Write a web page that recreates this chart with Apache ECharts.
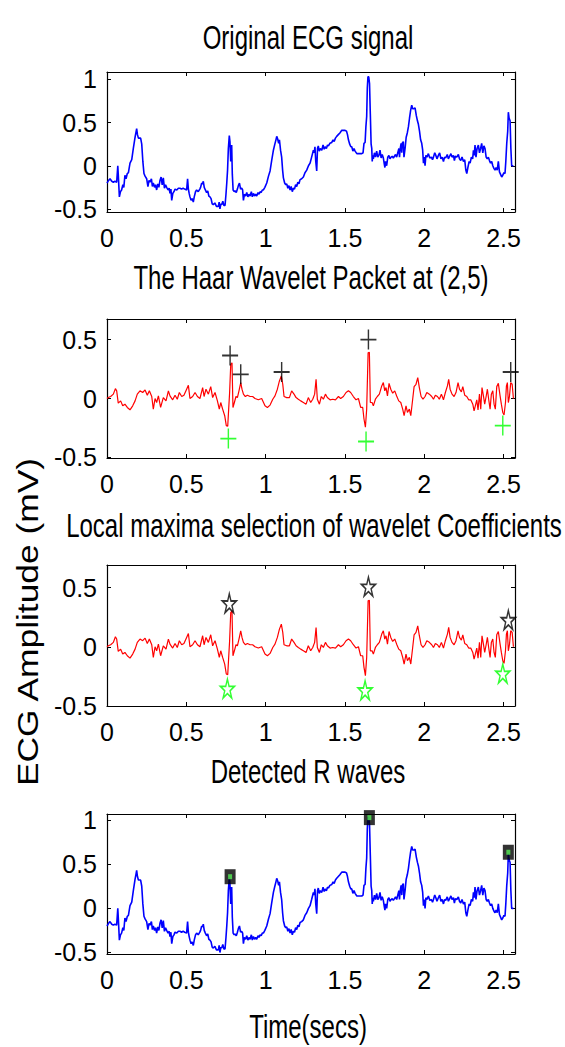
<!DOCTYPE html>
<html><head><meta charset="utf-8">
<script src="https://cdn.jsdelivr.net/npm/echarts@6/dist/echarts.min.js"></script>
<style>html,body{margin:0;padding:0;background:#fff}#c{width:565px;height:1047px}</style>
</head><body><div id="c"></div>
<script>
const panelTitles = ['Original ECG signal','The Haar Wavelet Packet at (2,5)','Local maxima selection of wavelet Coefficients','Detected R waves'];
const xAxisTitle = 'Time(secs)';
const yAxisTitle = 'ECG Amplitude (mV)';
const xTickValues = [0,0.5,1,1.5,2,2.5];
const yTicksEcg = [-0.5,0,0.5,1];
const yTicksCoef = [-0.5,0,0.5];

// Original ECG signal [time (s), amplitude (mV)]
const ecgSignal = [
[0.000,-0.20],[0.010,-0.17],[0.019,-0.15],[0.030,-0.18],[0.040,-0.19],[0.050,-0.18],[0.061,-0.19],[0.068,0.00],[0.071,-0.10],[0.078,-0.36],
[0.085,-0.30],[0.092,-0.28],[0.100,-0.22],[0.106,-0.25],[0.113,-0.11],[0.120,-0.15],[0.128,-0.09],[0.135,-0.08],[0.145,0.03],[0.156,0.07],
[0.166,0.20],[0.177,0.33],[0.182,0.38],[0.187,0.43],[0.192,0.36],[0.198,0.32],[0.204,0.32],[0.212,0.32],[0.219,0.25],[0.226,0.05],
[0.233,-0.09],[0.240,-0.12],[0.250,-0.15],[0.258,-0.24],[0.265,-0.17],[0.271,-0.19],[0.280,-0.15],[0.286,-0.24],[0.292,-0.20],[0.300,-0.25],
[0.306,-0.22],[0.313,-0.28],[0.320,-0.21],[0.327,-0.25],[0.334,-0.17],[0.341,-0.13],[0.348,-0.22],[0.355,-0.14],[0.362,-0.26],[0.369,-0.22],
[0.376,-0.25],[0.385,-0.28],[0.392,-0.26],[0.397,-0.32],[0.403,-0.27],[0.408,-0.40],[0.415,-0.32],[0.422,-0.30],[0.429,-0.27],[0.440,-0.28],
[0.450,-0.26],[0.460,-0.26],[0.470,-0.27],[0.480,-0.26],[0.490,-0.27],[0.502,-0.28],[0.508,-0.15],[0.513,-0.27],[0.518,-0.32],[0.523,-0.36],
[0.530,-0.40],[0.537,-0.38],[0.544,-0.42],[0.550,-0.36],[0.558,-0.30],[0.565,-0.28],[0.575,-0.30],[0.585,-0.27],[0.590,-0.25],[0.597,-0.20],
[0.602,-0.21],[0.607,-0.18],[0.613,-0.25],[0.620,-0.28],[0.628,-0.31],[0.635,-0.29],[0.642,-0.35],[0.649,-0.36],[0.656,-0.38],[0.663,-0.44],
[0.670,-0.45],[0.680,-0.43],[0.690,-0.47],[0.702,-0.47],[0.707,-0.42],[0.712,-0.50],[0.718,-0.44],[0.723,-0.45],[0.730,-0.41],[0.737,-0.46],
[0.744,-0.46],[0.750,-0.33],[0.755,-0.20],[0.760,-0.05],[0.765,0.20],[0.771,0.35],[0.775,0.28],[0.780,0.05],[0.786,0.24],[0.790,-0.10],
[0.795,-0.28],[0.802,-0.30],[0.807,-0.29],[0.815,-0.31],[0.822,-0.27],[0.828,-0.23],[0.835,-0.20],[0.842,-0.27],[0.849,-0.26],[0.855,-0.28],
[0.860,-0.40],[0.866,-0.33],[0.874,-0.35],[0.881,-0.31],[0.888,-0.36],[0.895,-0.33],[0.902,-0.35],[0.910,-0.30],[0.916,-0.36],[0.923,-0.32],
[0.930,-0.35],[0.937,-0.33],[0.944,-0.35],[0.952,-0.31],[0.958,-0.33],[0.965,-0.30],[0.972,-0.31],[0.979,-0.28],[0.986,-0.28],[0.995,-0.25],
[1.007,-0.20],[1.018,-0.12],[1.028,-0.06],[1.038,0.06],[1.049,0.18],[1.058,0.25],[1.065,0.30],[1.070,0.34],[1.076,0.31],[1.082,0.26],
[1.087,0.30],[1.094,0.18],[1.101,0.10],[1.107,-0.05],[1.112,-0.14],[1.120,-0.20],[1.127,-0.22],[1.133,-0.21],[1.140,-0.26],[1.147,-0.23],
[1.154,-0.28],[1.161,-0.24],[1.168,-0.30],[1.175,-0.26],[1.182,-0.27],[1.189,-0.22],[1.196,-0.24],[1.203,-0.19],[1.210,-0.21],[1.217,-0.16],
[1.227,-0.15],[1.238,-0.13],[1.248,-0.08],[1.259,-0.05],[1.270,0.00],[1.280,0.03],[1.290,0.10],[1.301,0.18],[1.306,0.15],[1.311,0.22],
[1.316,0.05],[1.322,-0.06],[1.327,0.20],[1.332,0.23],[1.338,0.17],[1.345,0.20],[1.354,0.18],[1.362,0.24],[1.369,0.19],[1.375,0.22],
[1.383,0.20],[1.390,0.24],[1.396,0.23],[1.405,0.26],[1.417,0.27],[1.425,0.30],[1.432,0.28],[1.440,0.32],[1.448,0.34],[1.458,0.36],
[1.468,0.38],[1.480,0.41],[1.490,0.41],[1.501,0.41],[1.510,0.40],[1.516,0.36],[1.522,0.30],[1.530,0.25],[1.537,0.22],[1.543,0.22],
[1.550,0.17],[1.557,0.20],[1.564,0.17],[1.575,0.14],[1.585,0.14],[1.596,0.14],[1.606,0.14],[1.614,0.15],[1.620,0.26],[1.627,0.27],
[1.632,0.45],[1.637,0.57],[1.641,0.90],[1.645,1.03],[1.650,1.03],[1.655,0.95],[1.660,0.60],[1.665,0.25],[1.669,0.20],[1.672,0.05],
[1.675,0.12],[1.679,0.08],[1.686,0.15],[1.693,0.10],[1.700,0.17],[1.707,0.10],[1.714,0.12],[1.721,0.18],[1.728,0.09],[1.735,0.13],
[1.742,0.09],[1.748,0.02],[1.752,-0.02],[1.756,0.05],[1.763,0.00],[1.770,0.10],[1.777,0.12],[1.784,0.08],[1.791,0.10],[1.798,0.11],
[1.805,0.09],[1.812,0.11],[1.819,0.13],[1.826,0.10],[1.833,0.15],[1.840,0.20],[1.844,0.10],[1.847,0.18],[1.854,0.26],[1.858,0.15],
[1.861,0.26],[1.868,0.28],[1.872,0.10],[1.879,0.20],[1.886,0.33],[1.893,0.38],[1.900,0.45],[1.907,0.55],[1.914,0.64],[1.921,0.70],
[1.927,0.66],[1.935,0.66],[1.942,0.67],[1.950,0.58],[1.957,0.52],[1.963,0.48],[1.970,0.40],[1.977,0.30],[1.984,0.26],[1.990,0.18],
[1.995,0.03],[2.000,0.10],[2.005,0.00],[2.010,0.12],[2.017,0.10],[2.026,0.14],[2.035,0.09],[2.045,0.10],[2.052,0.07],[2.058,0.10],
[2.066,0.15],[2.073,0.12],[2.080,0.08],[2.089,0.12],[2.097,0.15],[2.105,0.08],[2.113,0.10],[2.121,0.05],[2.128,0.10],[2.135,0.09],
[2.145,0.13],[2.152,0.08],[2.160,0.11],[2.168,0.14],[2.175,0.10],[2.184,0.12],[2.190,0.06],[2.196,0.11],[2.205,0.10],[2.215,0.13],
[2.222,0.08],[2.230,0.06],[2.238,0.10],[2.247,0.05],[2.255,0.07],[2.262,-0.05],[2.268,-0.09],[2.275,-0.02],[2.283,0.05],[2.289,0.03],
[2.297,0.10],[2.305,0.08],[2.310,0.18],[2.315,0.12],[2.320,0.24],[2.326,0.10],[2.333,0.20],[2.341,0.24],[2.348,0.15],[2.355,0.20],
[2.362,0.26],[2.369,0.15],[2.376,0.23],[2.383,0.20],[2.390,0.10],[2.397,0.08],[2.404,0.10],[2.411,0.06],[2.418,0.03],[2.425,0.05],
[2.432,0.00],[2.439,-0.03],[2.446,-0.05],[2.453,-0.02],[2.460,-0.05],[2.467,0.05],[2.474,-0.07],[2.481,-0.10],[2.488,-0.13],[2.495,-0.11],
[2.502,-0.08],[2.509,-0.09],[2.514,0.05],[2.520,0.26],[2.526,0.40],[2.530,0.62],[2.535,0.55],[2.541,0.52],[2.546,0.20],[2.551,0.00],[2.562,0.00]
];

// Haar wavelet packet coefficients at (2,5) [time (s), value]
const waveletCoef = [
[0.000,0.000],[0.008,0.008],[0.023,0.017],[0.040,0.037],[0.053,0.084],[0.061,0.065],[0.071,-0.039],[0.086,-0.020],[0.099,-0.062],[0.113,-0.048],
[0.128,-0.076],[0.145,-0.096],[0.162,-0.062],[0.177,-0.020],[0.191,0.037],[0.208,0.065],[0.225,0.051],[0.240,0.073],[0.254,0.028],[0.267,0.065],
[0.282,0.017],[0.292,-0.090],[0.303,0.000],[0.313,-0.034],[0.324,0.022],[0.338,-0.076],[0.355,0.008],[0.372,-0.020],[0.387,0.065],[0.397,0.022],
[0.414,-0.011],[0.429,0.028],[0.443,-0.006],[0.456,0.051],[0.471,0.017],[0.485,0.028],[0.502,0.079],[0.513,0.112],[0.523,0.000],[0.540,0.017],
[0.555,0.051],[0.570,0.017],[0.586,0.000],[0.603,0.093],[0.612,0.017],[0.624,0.079],[0.639,0.037],[0.654,0.101],[0.666,0.008],[0.681,0.051],
[0.696,-0.020],[0.708,-0.090],[0.717,-0.034],[0.729,-0.090],[0.742,-0.146],[0.752,-0.230],[0.761,-0.236],[0.767,-0.090],[0.773,0.051],[0.780,0.289],
[0.788,0.303],[0.794,-0.076],[0.803,-0.034],[0.813,0.017],[0.822,0.008],[0.832,0.065],[0.843,0.135],[0.851,0.079],[0.860,0.037],[0.872,0.017],
[0.885,0.028],[0.902,0.017],[0.918,0.017],[0.933,0.000],[0.954,-0.011],[0.975,0.000],[0.996,-0.062],[1.011,-0.076],[1.028,-0.056],[1.045,-0.006],
[1.059,0.022],[1.074,0.079],[1.087,0.149],[1.099,0.191],[1.108,0.121],[1.116,0.017],[1.133,0.008],[1.150,0.008],[1.164,0.065],[1.179,0.037],
[1.192,0.008],[1.206,-0.006],[1.221,-0.020],[1.238,-0.034],[1.255,-0.048],[1.269,0.008],[1.284,-0.034],[1.297,-0.006],[1.309,0.037],[1.318,0.163],
[1.326,-0.006],[1.339,-0.048],[1.351,0.017],[1.364,-0.006],[1.377,0.037],[1.389,0.008],[1.406,-0.011],[1.423,-0.006],[1.440,-0.011],[1.459,0.017],
[1.473,0.000],[1.490,0.017],[1.507,0.051],[1.522,0.065],[1.536,0.051],[1.553,0.017],[1.570,-0.011],[1.585,0.000],[1.599,-0.076],[1.612,-0.076],
[1.620,-0.174],[1.629,-0.244],[1.637,-0.090],[1.646,0.388],[1.654,0.393],[1.660,-0.034],[1.671,-0.034],[1.679,-0.062],[1.692,-0.006],[1.704,0.017],
[1.717,0.037],[1.732,0.107],[1.742,0.135],[1.751,0.065],[1.759,0.093],[1.768,0.022],[1.778,0.129],[1.789,0.079],[1.801,0.045],[1.814,0.065],
[1.826,0.022],[1.839,-0.020],[1.852,-0.034],[1.864,-0.090],[1.873,-0.146],[1.885,-0.062],[1.894,-0.118],[1.906,-0.090],[1.915,-0.146],[1.927,-0.006],
[1.936,0.101],[1.948,0.121],[1.959,0.177],[1.969,0.093],[1.980,0.017],[1.992,-0.006],[2.005,0.017],[2.016,0.051],[2.032,0.037],[2.047,0.017],
[2.058,-0.006],[2.070,0.028],[2.083,0.017],[2.095,-0.006],[2.108,0.037],[2.121,-0.011],[2.133,0.051],[2.146,0.107],[2.154,0.163],[2.163,0.079],
[2.175,0.037],[2.188,0.017],[2.200,0.051],[2.213,0.135],[2.222,0.079],[2.234,0.056],[2.243,0.101],[2.255,0.028],[2.268,0.017],[2.280,-0.011],
[2.293,-0.011],[2.306,-0.048],[2.314,-0.104],[2.322,-0.062],[2.331,-0.011],[2.339,-0.096],[2.348,0.037],[2.356,-0.090],[2.364,0.093],[2.373,0.022],
[2.381,-0.048],[2.390,0.017],[2.398,0.079],[2.406,-0.006],[2.415,-0.090],[2.423,0.037],[2.432,0.065],[2.440,-0.048],[2.448,-0.090],[2.457,0.101],
[2.467,0.129],[2.478,0.022],[2.486,-0.048],[2.495,-0.118],[2.503,-0.140],[2.512,-0.034],[2.518,0.107],[2.524,0.135],[2.530,-0.034],[2.537,0.017],
[2.545,0.135],[2.554,0.121],[2.562,0.000]
];

const maximaPlus = [[0.776,0.365],[0.843,0.205],[1.101,0.225],[1.648,0.500],[2.545,0.225]];
const minimaPlus = [[0.765,-0.340],[1.633,-0.365],[2.495,-0.230]];
const maximaStar = [[0.771,0.367],[1.648,0.508],[2.530,0.226]];
const minimaStar = [[0.759,-0.353],[1.627,-0.367],[2.495,-0.226]];
const rPeaks = [[0.776,0.358],[1.654,1.027],[2.530,0.635]];

const xMax = 2.572;
const yRanges = [[-0.535,1.085],[-0.505,0.675],[-0.5,0.69],[-0.517,1.068]];
const yTicks = [yTicksEcg, yTicksCoef, yTicksCoef, yTicksEcg];

const FONT = "'Liberation Sans',Arial,sans-serif";
const TICK_FS = 25;
const gridBoxes = [[72,140],[319,139],[565,141],[814,140]];

const plusPath = 'path://M0,50L100,50M50,0L50,100';
const starPath = 'path://M50,0L61.17,34.63L97.55,34.55L68.07,55.87L79.39,90.45L50,69L20.61,90.45L31.93,55.87L2.45,34.55L38.83,34.63Z';

const grids = gridBoxes.map(g => ({left:107, top:g[0], width:408, height:g[1], show:false, containLabel:false}));
const xAxes = [], yAxes = [];
gridBoxes.forEach((g,i) => {
  const base = {type:'value', gridIndex:i, min:0, max:xMax, splitLine:{show:false},
    axisLine:{show:true, onZero:false, lineStyle:{color:'#000', width:1.2}},
    axisTick:{show:true, inside:true, length:4, customValues:xTickValues, lineStyle:{color:'#000', width:1}}};
  xAxes.push(Object.assign({}, base, {position:'bottom',
    axisLabel:{show:true, customValues:xTickValues, color:'#000', fontSize:TICK_FS, fontFamily:FONT, margin:13}}));
  xAxes.push(Object.assign({}, base, {position:'top', axisLabel:{show:false}}));
  const yb = {type:'value', gridIndex:i, min:yRanges[i][0], max:yRanges[i][1], splitLine:{show:false},
    axisLine:{show:true, onZero:false, lineStyle:{color:'#000', width:1.2}},
    axisTick:{show:true, inside:true, length:4, customValues:yTicks[i], lineStyle:{color:'#000', width:1}}};
  yAxes.push(Object.assign({}, yb, {position:'left',
    axisLabel:{show:true, customValues:yTicks[i], color:'#000', fontSize:TICK_FS, fontFamily:FONT, margin:10}}));
  yAxes.push(Object.assign({}, yb, {position:'right', axisLabel:{show:false}}));
});

const lineSeries = (data, i, color, w) => ({type:'line', data, xAxisIndex:2*i, yAxisIndex:2*i, showSymbol:false, symbol:'none',
  lineStyle:{color, width:w}, silent:true, animation:false, z:2});
const markSeries = (data, i, symbol, size, itemStyle, z) => ({type:'scatter', data, xAxisIndex:2*i, yAxisIndex:2*i, symbol, symbolSize:size,
  itemStyle, silent:true, animation:false, clip:false, z:z||5});

const series = [
  lineSeries(ecgSignal, 0, '#0000ff', 1.6),
  lineSeries(waveletCoef, 1, '#ff0000', 1.2),
  markSeries(maximaPlus, 1, plusPath, [16,20], {color:'transparent', borderColor:'#000', borderWidth:1.6}),
  markSeries(minimaPlus, 1, plusPath, [16,20], {color:'transparent', borderColor:'#00ff00', borderWidth:1.6}),
  lineSeries(waveletCoef, 2, '#ff0000', 1.2),
  markSeries(maximaStar, 2, starPath, [14,19], {color:'transparent', borderColor:'#000', borderWidth:1.6}),
  markSeries(minimaStar, 2, starPath, [14,19], {color:'transparent', borderColor:'#00ff00', borderWidth:1.6}),
  lineSeries(ecgSignal, 3, '#0000ff', 1.6),
  markSeries(rPeaks, 3, 'rect', [11,15], {color:'#000'}),
  markSeries(rPeaks, 3, 'rect', [4,5], {color:'#55ee55'}, 6)
];

const titleY = [37, 277, 525, 771];
const titleX = [308, 311, 314, 308];
const mkText = (t, x, y, font, extra) => Object.assign({type:'text', x, y, silent:true,
  style:{text:t, font, fill:'#000', align:'center', verticalAlign:'middle'}}, extra);
const graphic = panelTitles.map((t,i) => mkText(t, titleX[i], titleY[i], "24px 'Liberation Sans',Arial,sans-serif", {scaleY:1.4}));
graphic.push(mkText(xAxisTitle, 308, 1026, "24px 'Liberation Sans',Arial,sans-serif", {scaleY:1.4}));
graphic.push(mkText(yAxisTitle, 28, 622, "29px 'Liberation Sans',Arial,sans-serif", {rotation:Math.PI/2, scaleX:1.22}));

const chart = echarts.init(document.getElementById('c'), null, {renderer:'svg'});
chart.setOption({animation:false, backgroundColor:'#fff', grid:grids, xAxis:xAxes, yAxis:yAxes, series, graphic});
</script></body></html>
